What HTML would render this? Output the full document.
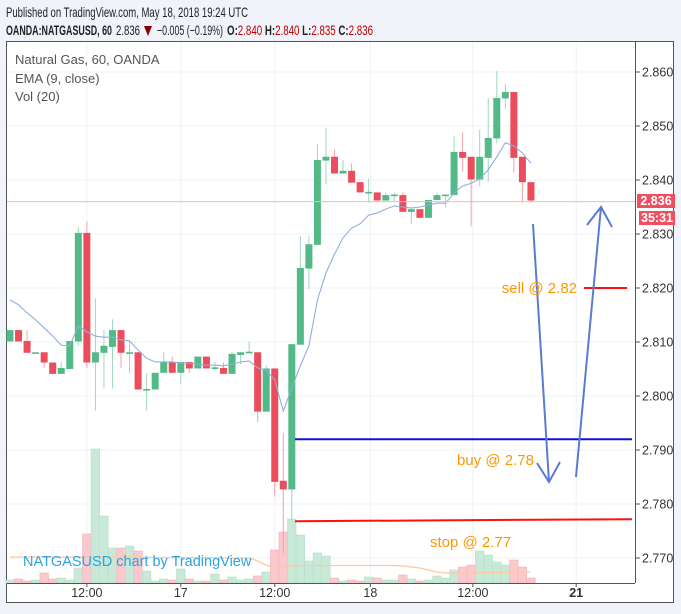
<!DOCTYPE html>
<html><head><meta charset="utf-8">
<style>
html,body{margin:0;padding:0;background:#f0f3fa;}
body{width:681px;height:609px;overflow:hidden;font-family:"Liberation Sans",sans-serif;}
svg text{font-family:"Liberation Sans",sans-serif;}
</style></head>
<body>
<svg id="chart" width="681" height="609" xmlns="http://www.w3.org/2000/svg">
<rect x="0" y="0" width="681" height="609" fill="#f0f3fa"/>
<text x="6" y="17" font-size="14" fill="#222" textLength="242" lengthAdjust="spacingAndGlyphs">Published on TradingView.com, May 18, 2018 19:24 UTC</text>
<g font-size="14">
<text x="6" y="35" font-weight="bold" fill="#222" textLength="106" lengthAdjust="spacingAndGlyphs">OANDA:NATGASUSD, 60</text>
<text x="116" y="35" fill="#222" textLength="24" lengthAdjust="spacingAndGlyphs">2.836</text>
<path d="M144,26 L152,26 L148,36 Z" fill="#8b0000"/>
<text x="157" y="35" fill="#222" textLength="66" lengthAdjust="spacingAndGlyphs">−0.005 (−0.19%)</text>
<text x="227" y="35" fill="#222" font-weight="bold" textLength="146" lengthAdjust="spacingAndGlyphs">O:<tspan fill="#c00000" font-weight="normal">2.840</tspan> H:<tspan fill="#c00000" font-weight="normal">2.840</tspan> L:<tspan fill="#c00000" font-weight="normal">2.835</tspan> C:<tspan fill="#c00000" font-weight="normal">2.836</tspan></text>
</g>
<rect x="6.5" y="41.5" width="667" height="561" fill="#fff" stroke="#555" stroke-width="1"/>
<g id="grid"></g>
<g id="vol"></g>
<g id="candles"></g>
<g id="overlay"></g>
<g id="axes"></g>
<text x="15" y="64" font-size="13" fill="#555">Natural Gas, 60, OANDA</text>
<text x="15" y="83" font-size="13" fill="#555">EMA (9, close)</text>
<text x="15" y="101" font-size="13" fill="#555">Vol (20)</text>
<text x="23" y="566" font-size="14.5" fill="#2aa4e0">NATGASUSD chart by TradingView</text>
</svg>
<script>
const opens=[2.8101,2.8122,2.8102,2.8081,2.8081,2.8062,2.8041,2.8050,2.8101,2.8302,2.8062,2.8080,2.8091,2.8122,2.8080,2.8081,2.8012,2.8012,2.8043,2.8063,2.8043,2.8063,2.8051,2.8073,2.8052,2.8052,2.8041,2.8076,2.8081,2.8081,2.7971,2.8051,2.7843,2.7827,2.8095,2.8236,2.8280,2.8436,2.8443,2.8412,2.8417,2.8396,2.8377,2.8377,2.8362,2.8372,2.8372,2.8341,2.8346,2.8330,2.8363,2.8372,2.8372,2.8452,2.8443,2.8401,2.8441,2.8477,2.8551,2.8563,2.8443,2.8396];
const highs=[2.8122,2.8122,2.8122,2.8081,2.8081,2.8062,2.8064,2.8102,2.8314,2.8323,2.8181,2.8122,2.8142,2.8122,2.8102,2.8081,2.8042,2.8043,2.8082,2.8073,2.8063,2.8063,2.8073,2.8073,2.8063,2.8062,2.8082,2.8081,2.8101,2.8081,2.8057,2.8051,2.7932,2.8096,2.8296,2.8296,2.8467,2.8497,2.8457,2.8437,2.8431,2.8396,2.8402,2.8377,2.8377,2.8377,2.8377,2.8346,2.8346,2.8363,2.8377,2.8373,2.8481,2.8488,2.8443,2.8493,2.8552,2.8602,2.8578,2.8563,2.8443,2.8396];
const lows=[2.8101,2.8101,2.8080,2.8081,2.8052,2.8041,2.8041,2.8050,2.8093,2.8052,2.7973,2.8014,2.8014,2.8052,2.8042,2.8012,2.7973,2.8012,2.8043,2.8043,2.8023,2.8043,2.8051,2.8051,2.8047,2.8041,2.8041,2.8059,2.8081,2.7952,2.7971,2.7814,2.7709,2.7770,2.8095,2.8198,2.8280,2.8393,2.8412,2.8412,2.8395,2.8377,2.8358,2.8362,2.8362,2.8359,2.8341,2.8318,2.8330,2.8330,2.8363,2.8349,2.8372,2.8415,2.8314,2.8388,2.8397,2.8468,2.8532,2.8414,2.8358,2.8358];
const closes=[2.8122,2.8101,2.8080,2.8081,2.8062,2.8041,2.8052,2.8102,2.8302,2.8062,2.8081,2.8093,2.8122,2.8080,2.8081,2.8012,2.8013,2.8043,2.8063,2.8043,2.8063,2.8051,2.8073,2.8051,2.8053,2.8041,2.8078,2.8081,2.8082,2.7971,2.8051,2.7841,2.7827,2.8096,2.8237,2.8281,2.8437,2.8443,2.8412,2.8417,2.8395,2.8377,2.8378,2.8362,2.8372,2.8373,2.8341,2.8346,2.8330,2.8363,2.8372,2.8373,2.8452,2.8441,2.8401,2.8443,2.8478,2.8552,2.8563,2.8441,2.8396,2.8362];
const emaValues=[2.8178,2.8169,2.8154,2.8141,2.8126,2.8111,2.8094,2.8093,2.8130,2.8119,2.8111,2.8109,2.8109,2.8104,2.8102,2.8085,2.8070,2.8063,2.8063,2.8063,2.8061,2.8061,2.8059,2.8057,2.8057,2.8056,2.8059,2.8063,2.8065,2.8052,2.8048,2.8030,2.7972,2.8015,2.8056,2.8093,2.8178,2.8228,2.8263,2.8293,2.8311,2.8319,2.8335,2.8339,2.8346,2.8352,2.8350,2.8348,2.8350,2.8354,2.8357,2.8357,2.8376,2.8389,2.8394,2.8402,2.8419,2.8443,2.8469,2.8463,2.8450,2.8431];
const volumes=[3,4,2,3,10,4,5,3,15,49,134,67,35,35,37,32,12,2,4,3,14,4,2,2,9,3,6,3,4,7,11,33,51,64,48,22,30,27,5,2,3,2,6,5,3,3,8,4,2,3,7,5,13,16,18,32,28,21,18,23,16,5];
const volMA=[26,26,26,26,26,26,26,26,26,26,26,26,26,26,26,26,26,25.5,25.5,25.5,25.5,25.5,25.5,25.5,25.5,25,25,25,25,22,18,15,16,17,17.5,17.5,17.5,17.5,17.5,17.5,17.5,17.5,17.5,17.5,17.5,17.5,17,16,15,13,11,10,10,10,10,10.5,10.5,10.5,10.5,11,11,11];
const priceTicks=[2.860,2.850,2.840,2.830,2.820,2.810,2.800,2.790,2.780,2.770];
const timeLabels=["12:00","17","12:00","18","12:00","21"];
const timeIdx=[9,20,31,42.2,54.2,66.3];
const lastPrice=2.836, buyLevel=2.7920, stopLevel=2.7770, sellLevel=2.8200;

const NS="http://www.w3.org/2000/svg";
const PL=7,PR=635,PT=42,PB=583;
function yP(p){return 72+(2.860-p)*5400;}
function xI(i){return 10+i*8.54;}
function yV(v){return PB-v;}
function mk(parent,tag,attrs){const e=document.createElementNS(NS,tag);for(const k in attrs)e.setAttribute(k,attrs[k]);parent.appendChild(e);return e;}
const grid=document.getElementById('grid'),vol=document.getElementById('vol'),cg=document.getElementById('candles'),ov=document.getElementById('overlay'),ax=document.getElementById('axes');

priceTicks.forEach((p,k)=>{
  const l=mk(grid,'line',{x1:PL,x2:PR,y1:yP(p),y2:yP(p),stroke:'#eef1f6','stroke-width':1});
  
  
  const t=mk(ax,'line',{x1:PR,x2:PR+5,y1:yP(p),y2:yP(p),stroke:'#555','stroke-width':1});
  
  
  const tx=mk(ax,'text',{x:642,y:yP(p)+4.5,'font-size':12.5,fill:'#333'});
  tx.textContent=p.toFixed(3);
  
  
});
timeLabels.forEach((s,k)=>{
  const x=xI(timeIdx[k]);
  const l=mk(grid,'line',{x1:x,x2:x,y1:PT,y2:PB,stroke:'#eef1f6','stroke-width':1});
  
  
  const t=mk(ax,'line',{x1:x,x2:x,y1:PB,y2:PB+4,stroke:'#555','stroke-width':1});
  
  
  const tx=mk(ax,'text',{x:x,y:597,'font-size':12.5,fill:'#333','text-anchor':'middle','font-weight':s==='21'?'bold':'normal'});
  tx.textContent=s;
  
  
});
const ra=mk(ax,'line',{x1:PR+0.5,x2:PR+0.5,y1:PT,y2:PB,stroke:'#555','stroke-width':1});


const ba=mk(ax,'line',{x1:PL,x2:PR,y1:PB+0.5,y2:PB+0.5,stroke:'#555','stroke-width':1});



volumes.forEach((v,i)=>{
  const up=closes[i]>=opens[i];
  const r=mk(vol,'rect',{x:xI(i)-4.27,y:yV(v),width:8.54,height:v,fill:up?'#c8e9d8':'#f9c9cd',stroke:up?'#b4dfc9':'#f2b3b9','stroke-width':0.6});
  
  
});
const vm=mk(vol,'polyline',{points:volMA.map((v,i)=>xI(i)+','+yV(v)).join(' '),fill:'none',stroke:'#ffc89e','stroke-width':1.3});



const lp=mk(ov,'line',{x1:PL,x2:PR,y1:yP(lastPrice),y2:yP(lastPrice),stroke:'#f7b5ba','stroke-width':1});



opens.forEach((o,i)=>{
  const c=closes[i],up=c>=o,x=xI(i);
  const w=mk(cg,'line',{x1:x,x2:x,y1:yP(highs[i]),y2:yP(lows[i]),stroke:up?'#9fd7bb':'#f4a1a9','stroke-width':1});
  
  
  const top=yP(Math.max(o,c)),h=Math.max(1.6,Math.abs(yP(o)-yP(c)));
  const b=mk(cg,'rect',{x:x-3.5,y:top,width:7,height:h,fill:up?'#53b987':'#eb4d5c'});
  
  
});
const ema=mk(cg,'polyline',{points:emaValues.map((v,i)=>xI(i)+','+yP(v)).join(' '),fill:'none',stroke:'#8fb0da','stroke-width':1.1});



const bl=mk(ov,'line',{x1:295,x2:632,y1:yP(buyLevel),y2:yP(buyLevel),stroke:'#1010e0','stroke-width':2});


const sl=mk(ov,'line',{x1:295,x2:632,y1:yP(stopLevel)+1,y2:yP(stopLevel)-1,stroke:'#ff1010','stroke-width':2});


const sel=mk(ov,'line',{x1:584,x2:627,y1:yP(sellLevel),y2:yP(sellLevel),stroke:'#ff1010','stroke-width':2});


const a1=mk(ov,'polyline',{points:'533,224 549,482',fill:'none',stroke:'#5b7bd0','stroke-width':2});


const a1h=mk(ov,'polyline',{points:'537,463 549,482 560,462',fill:'none',stroke:'#5b7bd0','stroke-width':2});


const a2=mk(ov,'polyline',{points:'576,477 601,207',fill:'none',stroke:'#5b7bd0','stroke-width':2});


const a2h=mk(ov,'polyline',{points:'587,225 601,207 612,227',fill:'none',stroke:'#5b7bd0','stroke-width':2});


[['sell @ 2.82',577,293,'end','sell-label'],['buy @ 2.78',457,465,'start','buy-label'],['stop @ 2.77',430,547,'start','stop-label']].forEach(d=>{
  const t=mk(ov,'text',{x:d[1],y:d[2],'font-size':15,fill:'#ff9800','text-anchor':d[3]});
  t.textContent=d[0];
  
  
});
const pb=mk(ax,'rect',{x:637,y:194,width:38,height:14,fill:'#ef5060'});


const pt=mk(ax,'text',{x:656,y:205,'font-size':12.5,fill:'#fff','text-anchor':'middle','font-weight':'bold'});
pt.textContent='2.836';


const cb=mk(ax,'rect',{x:639,y:211,width:36,height:14,fill:'#ef5060'});


const ct=mk(ax,'text',{x:657,y:222,'font-size':12.5,fill:'#fff','text-anchor':'middle','font-weight':'bold'});
ct.textContent='35:31';


</script>
</body></html>
